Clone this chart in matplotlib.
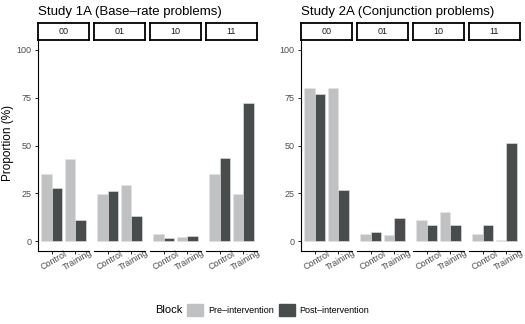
import matplotlib
matplotlib.use("Agg")
import matplotlib.pyplot as plt
import matplotlib.patches as mpatches
import numpy as np

plt.rcParams['font.family'] = ['Liberation Sans', 'DejaVu Sans']

W, H = 525, 324

blocks = ['00', '01', '10', '11']
groups = ['Control', 'Training']
titles = ['Study 1A (Base\u2013rate problems)', 'Study 2A (Conjunction problems)']

# proportions (%) per block: [Control, Training]
s1_pre = {'00': [35.3, 43.1], '01': [24.6, 29.3], '10': [4.1, 2.2], '11': [35.2, 24.5]}
s1_post = {'00': [27.6, 11.0], '01': [26.4, 13.4], '10': [2.0, 2.6], '11': [43.5, 72.3]}
s2_pre = {'00': [80.0, 79.9], '01': [4.1, 3.6], '10': [11.4, 15.2], '11': [3.8, 0.7]}
s2_post = {'00': [76.9, 26.9], '01': [4.8, 12.4], '10': [8.8, 8.4], '11': [8.8, 51.4]}

studies = [(s1_pre, s1_post), (s2_pre, s2_post)]
pre_col = '#c0c1c2'
post_col = '#474d4d'
tick_col = '#4d4d4d'

fig = plt.figure(figsize=(W / 100, H / 100), dpi=100)


def box(x0, y0, x1, y1):
    # pixel coords (top-left origin) -> figure fraction rect
    return [x0 / W, 1 - y1 / H, (x1 - x0) / W, (y1 - y0) / H]


starts = [[38, 94, 150, 206], [301, 357, 413, 469]]
pw = 51
top, bot = 40, 251

for s, (pre, post) in enumerate(studies):
    fig.text(starts[s][0] / W, 1 - 12 / H, titles[s], fontsize=9.5, va='center', ha='left')
    for b, blk in enumerate(blocks):
        x0 = starts[s][b]
        ax = fig.add_axes(box(x0, top, x0 + pw, bot))
        xs = np.arange(1, len(groups) + 1)
        ax.bar(xs - 0.225, pre[blk], width=0.45, color=pre_col, edgecolor='#e6e6e6', linewidth=0.4)
        ax.bar(xs + 0.225, post[blk], width=0.45, color=post_col, edgecolor='#e6e6e6', linewidth=0.4)
        ax.set_xlim(0.4, 2.6)
        ax.set_ylim(-5, 105)
        ax.set_xticks(xs)
        ax.set_xticklabels(groups, rotation=30, ha='center', va='top', rotation_mode='anchor',
                           fontsize=6.5, color=tick_col)
        ax.tick_params(axis='x', length=2.5, width=0.6, pad=1.5)
        for sp in ['top', 'right']:
            ax.spines[sp].set_visible(False)
        ax.spines['bottom'].set_linewidth(0.8)
        if b == 0:
            ax.set_yticks([0, 25, 50, 75, 100])
            ax.tick_params(axis='y', length=2.5, width=0.6, pad=2, labelsize=6.5, labelcolor=tick_col)
            ax.spines['left'].set_linewidth(0.8)
        else:
            ax.spines['left'].set_visible(False)
            ax.set_yticks([])
        # strip
        sax = fig.add_axes(box(x0, 23, x0 + pw, 40))
        sax.set_xticks([])
        sax.set_yticks([])
        for sp in sax.spines.values():
            sp.set_linewidth(1.3)
        sax.text(0.5, 0.5, blk, fontsize=6.5, ha='center', va='center', transform=sax.transAxes, color='#1a1a1a')

fig.text(8 / W, 1 - 143 / H, 'Proportion (%)', rotation=90, fontsize=8.5, va='center', ha='center')

# legend
fig.text(155 / W, 1 - 310 / H, 'Block', fontsize=8, va='center', ha='left')
handles = [mpatches.Patch(color=pre_col, label='Pre\u2013intervention'),
           mpatches.Patch(color=post_col, label='Post\u2013intervention')]
fig.legend(handles=handles, ncol=2, frameon=False, fontsize=6.5,
           loc='center left', bbox_to_anchor=(187 / W, 1 - 310 / H),
           handlelength=1.8, handleheight=1.8, handletextpad=0.5, columnspacing=0.6,
           borderpad=0, borderaxespad=0)

fig.savefig('out.png', dpi=100)
